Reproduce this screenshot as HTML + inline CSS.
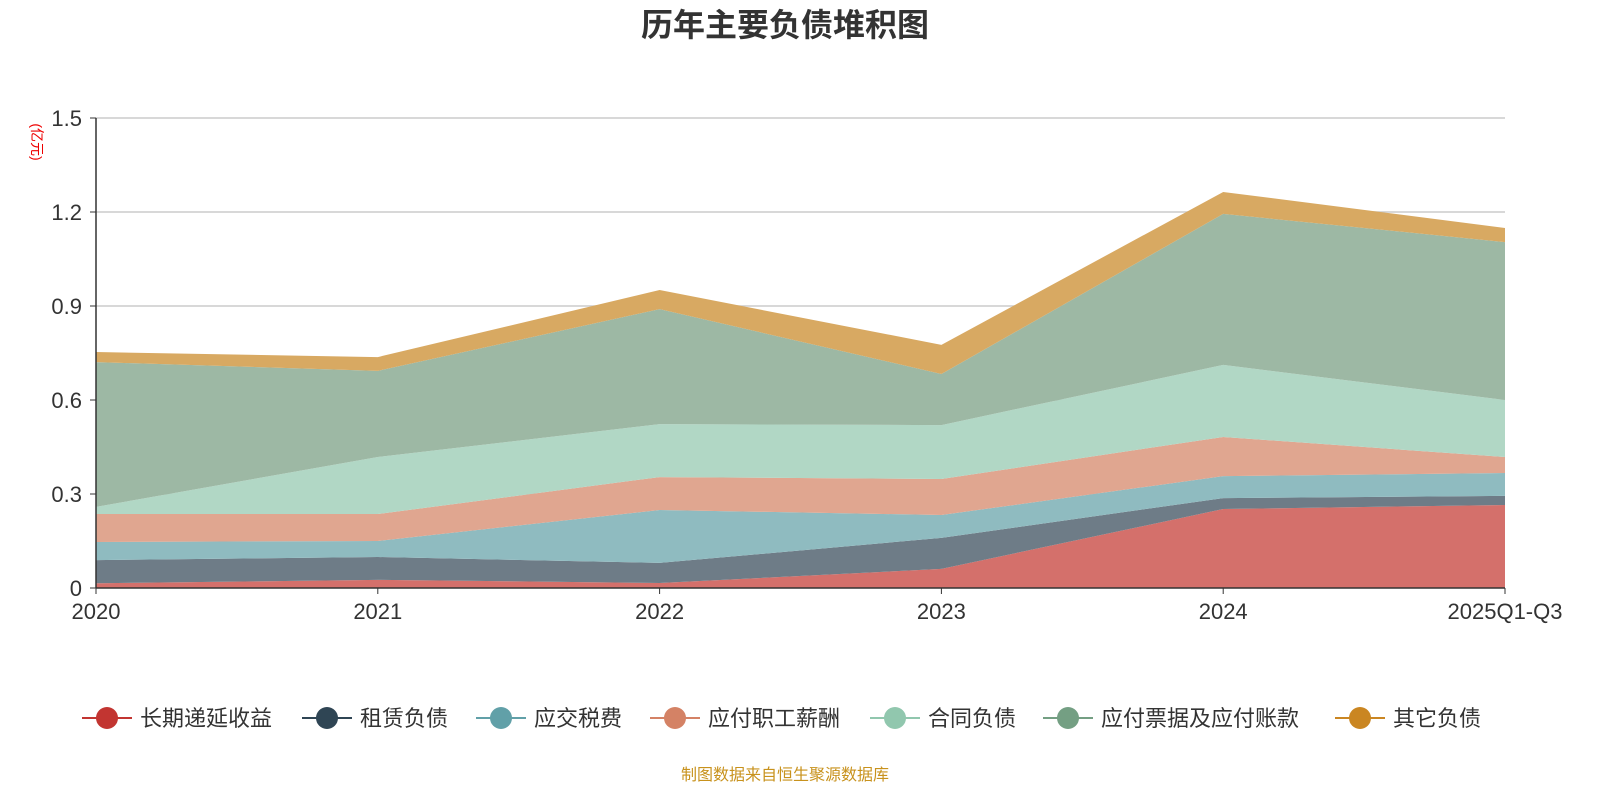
<!DOCTYPE html>
<html><head><meta charset="utf-8"><style>
body{margin:0;background:#fff;font-family:"Liberation Sans","Noto Sans CJK SC",sans-serif;}
svg text{font-family:"Liberation Sans","Noto Sans CJK SC",sans-serif;}
</style></head><body>
<svg id="c" width="1600" height="800">
<text x="785" y="36" text-anchor="middle" font-size="32" font-weight="bold" fill="#333">历年主要负债堆积图</text>
<text x="0" y="0" transform="translate(32,142) rotate(90)" text-anchor="middle" font-size="14" fill="#e00">(亿元)</text>
<text x="785" y="780" text-anchor="middle" font-size="16" fill="#c8921d">制图数据来自恒生聚源数据库</text>
<g id="grid"></g><g id="areas"></g><g id="axes"></g><g id="legend"></g>
</svg>
<script>
const categories=["2020","2021","2022","2023","2024","2025Q1-Q3"];
const seriesNames=["长期递延收益","租赁负债","应交税费","应付职工薪酬","合同负债","应付票据及应付账款","其它负债"];
const s1=[0.015,0.026,0.016,0.061,0.252,0.265];
const s2=[0.074,0.073,0.064,0.099,0.035,0.029];
const s3=[0.058,0.051,0.169,0.073,0.070,0.073];
const s4=[0.089,0.086,0.105,0.115,0.125,0.051];
const s5=[0.023,0.182,0.169,0.172,0.230,0.182];
const s6=[0.462,0.275,0.367,0.163,0.482,0.504];
const s7=[0.032,0.044,0.061,0.093,0.070,0.045];
const yTicks=[0,0.3,0.6,0.9,1.2,1.5];
const yTickLabels=["0","0.3","0.6","0.9","1.2","1.5"];
const series=[s1,s2,s3,s4,s5,s6,s7];
const fills=["#d4706b","#6e7c87","#8fbbc0","#e0a690","#b1d7c5","#9db8a4","#d8a962"];
const legendColors=["#c23531","#2f4554","#61a0a8","#d48265","#91c7ae","#749f83","#ca8622"];
const NS="http://www.w3.org/2000/svg";
const X0=96,X1=1505,Y0=588,Y1=118,YMAX=1.5;
const xs=i=>X0+(X1-X0)*i/(categories.length-1);
const ys=v=>Y0-(Y0-Y1)*v/YMAX;
function mk(t,a,p){const e=document.createElementNS(NS,t);for(const k in a)e.setAttribute(k,a[k]);p.appendChild(e);return e;}
const grid=document.getElementById('grid'),areas=document.getElementById('areas'),axes=document.getElementById('axes'),leg=document.getElementById('legend');
yTicks.forEach((v,i)=>{
 if(i>0){const l=mk('line',{x1:X0,x2:X1,y1:ys(v),y2:ys(v),stroke:'#ccc','stroke-width':1.5},grid);
 
 }
 const t=mk('text',{x:X0-14,y:ys(v)+8,'text-anchor':'end','font-size':22,fill:'#333'},axes);t.textContent=yTickLabels[i];
 
 
 mk('line',{x1:X0-6,x2:X0,y1:ys(v),y2:ys(v),stroke:'#333'},axes);
});
let base=categories.map(()=>0);
series.forEach((s,k)=>{
 const top=base.map((b,i)=>b+s[i]);
 let d='M'+top.map((v,i)=>xs(i)+','+ys(v)).join('L');
 for(let i=base.length-1;i>=0;i--)d+='L'+xs(i)+','+ys(base[i]);
 const p=mk('path',{d:d+'Z',fill:fills[k]},areas);
 
 
 base=top;
});
mk('line',{x1:X0,x2:X0,y1:Y1,y2:Y0,stroke:'#333','stroke-width':1.5},axes);
mk('line',{x1:X0,x2:X1,y1:Y0,y2:Y0,stroke:'#333','stroke-width':1.5},axes);
categories.forEach((c,i)=>{
 mk('line',{x1:xs(i),x2:xs(i),y1:Y0,y2:Y0+6,stroke:'#333'},axes);
 const t=mk('text',{x:xs(i),y:Y0+31,'text-anchor':'middle','font-size':22,fill:'#333'},axes);t.textContent=c;
 
 
});
const lx=[82,302,476,650,870,1043,1335];
seriesNames.forEach((n,k)=>{
 const g=mk('g',{},leg);
 
 
 mk('line',{x1:lx[k],x2:lx[k]+50,y1:718,y2:718,stroke:legendColors[k],'stroke-width':2},g);
 mk('circle',{cx:lx[k]+25,cy:718,r:11,fill:legendColors[k]},g);
 const t=mk('text',{x:lx[k]+58,y:726,'font-size':22,fill:'#333'},g);t.textContent=n;
});
</script>
</body></html>
